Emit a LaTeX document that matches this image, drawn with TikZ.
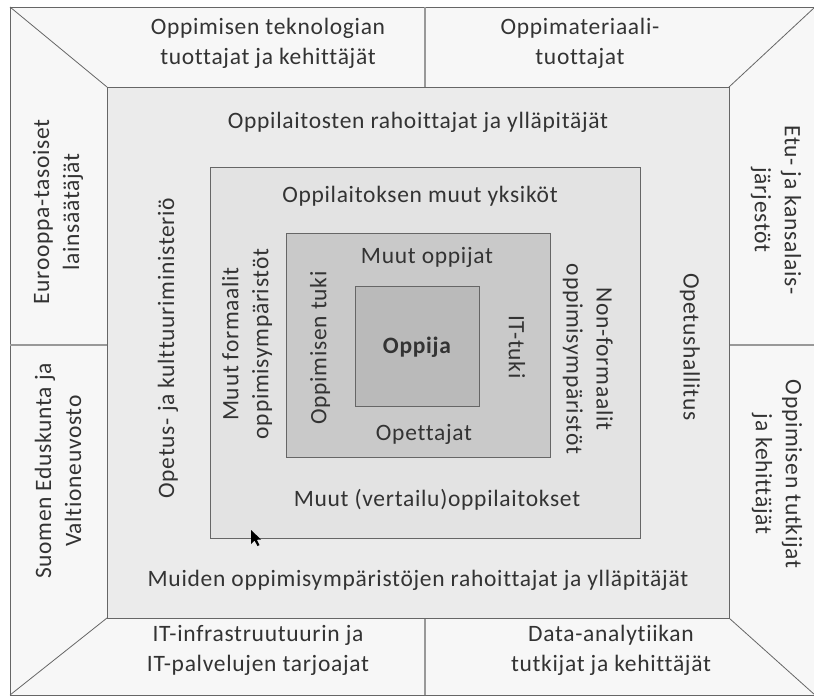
\documentclass[tikz,border=0pt]{standalone}
\usepackage{fontspec}
\setmainfont{Carlito}[Ligatures=NoCommon, LetterSpace=3]
\begin{document}
\begin{tikzpicture}[x=1pt,y=-1pt,
  lbl/.style={text=black!80, font=\fontsize{23.5}{30}\selectfont, align=center, inner sep=0pt},
  frame/.style={draw=black!60, line width=0.9pt},
  divider/.style={draw=black!40, line width=1.4pt}]
\useasboundingbox (0,0) rectangle (814,697);
\fill[white] (0,0) rectangle (814,697);
% outer frame
\coordinate (O1) at (10,7);
\coordinate (O2) at (815,7);
\coordinate (O3) at (815,695);
\coordinate (O4) at (10,695);
\filldraw[fill=black!3, frame] (O1) rectangle (O3);
% level 1
\coordinate (A1) at (107,87);
\coordinate (A2) at (729,87);
\coordinate (A3) at (729,618);
\coordinate (A4) at (107,618);
\draw[draw=black!60, line width=0.8pt] (O1) -- (A1) (O2) -- (A2) (O3) -- (A3) (O4) -- (A4);
\draw[divider] (425,7) -- (425,87) (425,618) -- (425,695) (10,345) -- (107,345) (729,345) -- (815,345);
\filldraw[fill=black!8, frame] (A1) rectangle (A3);
% level 2
\filldraw[fill=black!11, frame] (210,167) rectangle (640,538);
% level 3
\filldraw[fill=black!21, frame] (286,233) rectangle (550,457);
% level 4
\filldraw[fill=black!27, frame] (355,286) rectangle (479,406);

% texts
\node[lbl] (t1) at (268,43) {Oppimisen teknologian\\tuottajat ja kehittäjät};
\node[lbl] (t2) at (580,43) {Oppimateriaali-\\tuottajat};
\node[lbl] (t3) at (258,650) {IT-infrastruutuurin ja\\IT-palvelujen tarjoajat};
\node[lbl] (t4) at (611,650) {Data-analytiikan\\tutkijat ja kehittäjät};
\node[lbl, rotate=90] (t5) at (58,212) {Eurooppa-tasoiset\\lainsäätäjät};
\node[lbl, rotate=90] (t6) at (58,471) {Suomen Eduskunta ja\\Valtioneuvosto};
\node[lbl, rotate=-90] (t7) at (776,210) {Etu- ja kansalais-\\järjestöt};
\node[lbl, rotate=-90] (t8) at (777,474) {Oppimisen tutkijat\\ja kehittäjät};

\node[lbl] (l1a) at (418,122) {Oppilaitosten rahoittajat ja ylläpitäjät};
\node[lbl] (l1b) at (418,580) {Muiden oppimisympäristöjen rahoittajat ja ylläpitäjät};
\node[lbl, rotate=90] (l1c) at (168,348) {Opetus- ja kulttuuriministeriö};
\node[lbl, rotate=-90] (l1d) at (690,347) {Opetushallitus};

\node[lbl] (l2a) at (420,196) {Oppilaitoksen muut yksiköt};
\node[lbl] (l2b) at (437,500) {Muut (vertailu)oppilaitokset};
\node[lbl, rotate=90] (l2c) at (247,344) {Muut formaalit\\oppimisympäristöt};
\node[lbl, rotate=-90] (l2d) at (588,359) {Non-formaalit\\oppimisympäristöt};

\node[lbl] (l3a) at (427,257) {Muut oppijat};
\node[lbl] (l3b) at (424,434) {Opettajat};
\node[lbl, rotate=90] (l3c) at (320,348) {Oppimisen tuki};
\node[lbl, rotate=-90] (l3d) at (517,347) {IT-tuki};

\node[lbl, font=\fontsize{23.5}{30}\selectfont\bfseries] (core) at (417,347) {Oppija};

% mouse pointer
\fill[black] (251,530) -- (251,544) -- (254.5,540.5) -- (257.5,546) -- (259.5,545) -- (256.8,539.8) -- (261,539.5) -- cycle;
\end{tikzpicture}
\end{document}
